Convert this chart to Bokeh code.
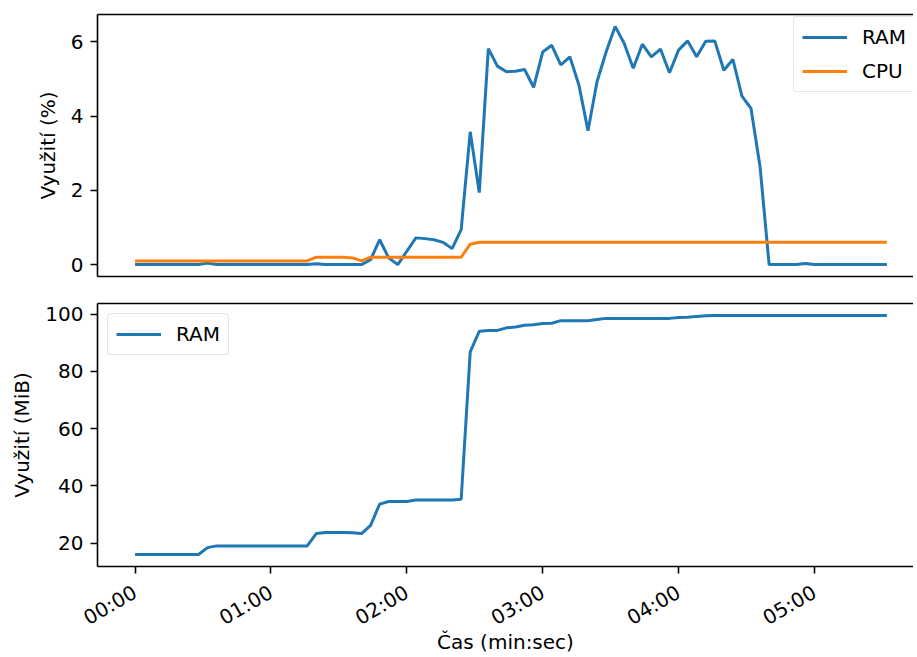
import math
from bokeh.plotting import figure
from bokeh.layouts import column
from bokeh.models import Range1d, FixedTicker, LinearAxis, Legend, LegendItem
from bokeh.embed import file_html
from bokeh.resources import INLINE

# time in seconds (sample every 4 s)
t_sec = [0, 4, 8, 12, 16, 20, 24, 28, 32, 36, 40, 44, 48, 52, 56, 60, 64, 68, 72, 76,
         80, 84, 88, 92, 96, 100, 104, 108, 112, 116, 120, 124, 128, 132, 136, 140, 144, 148, 152, 156,
         160, 164, 168, 172, 176, 180, 184, 188, 192, 196, 200, 204, 208, 212, 216, 220, 224, 228, 232, 236,
         240, 244, 248, 252, 256, 260, 264, 268, 272, 276, 280, 284, 288, 292, 296, 300, 304, 308, 312, 316,
         320, 324, 328, 332]

ram_pct = [0, 0, 0, 0, 0, 0, 0, 0, 0.04, 0, 0, 0, 0, 0, 0, 0, 0, 0, 0, 0,
           0.02, 0, 0, 0, 0, 0, 0.13, 0.67, 0.18, 0.0, 0.36, 0.72, 0.70, 0.67, 0.60, 0.43, 0.94, 3.58, 1.94, 5.82,
           5.35, 5.20, 5.21, 5.26, 4.78, 5.73, 5.91, 5.38, 5.60, 4.84, 3.61, 4.93, 5.73, 6.42, 5.96, 5.29, 5.94, 5.60, 5.81, 5.17,
           5.78, 6.03, 5.60, 6.02, 6.03, 5.24, 5.53, 4.54, 4.21, 2.64, 0, 0, 0, 0, 0.03, 0, 0, 0, 0, 0,
           0, 0, 0, 0]

cpu_pct = [0.1, 0.1, 0.1, 0.1, 0.1, 0.1, 0.1, 0.1, 0.1, 0.1, 0.1, 0.1, 0.1, 0.1, 0.1, 0.1, 0.1, 0.1, 0.1, 0.1,
           0.2, 0.2, 0.2, 0.2, 0.18, 0.1, 0.2, 0.2, 0.2, 0.2, 0.2, 0.2, 0.2, 0.2, 0.2, 0.2, 0.2, 0.55, 0.6, 0.6,
           0.6, 0.6, 0.6, 0.6, 0.6, 0.6, 0.6, 0.6, 0.6, 0.6, 0.6, 0.6, 0.6, 0.6, 0.6, 0.6, 0.6, 0.6, 0.6, 0.6,
           0.6, 0.6, 0.6, 0.6, 0.6, 0.6, 0.6, 0.6, 0.6, 0.6, 0.6, 0.6, 0.6, 0.6, 0.6, 0.6, 0.6, 0.6, 0.6, 0.6,
           0.6, 0.6, 0.6, 0.6]

ram_mib = [16, 16, 16, 16, 16, 16, 16, 16, 18.4, 19, 19, 19, 19, 19, 19, 19, 19, 19, 19, 19,
           23.3, 23.7, 23.7, 23.7, 23.6, 23.3, 26.2, 33.6, 34.5, 34.5, 34.5, 35.0, 35.0, 35.0, 35.0, 35.0, 35.3, 86.8, 94.0, 94.3,
           94.3, 95.2, 95.5, 96.1, 96.3, 96.7, 96.8, 97.7, 97.7, 97.7, 97.7, 98.1, 98.5, 98.5, 98.5, 98.5, 98.5, 98.5, 98.5, 98.5,
           98.8, 98.9, 99.2, 99.4, 99.5, 99.5, 99.5, 99.5, 99.5, 99.5, 99.5, 99.5, 99.5, 99.5, 99.5, 99.5, 99.5, 99.5, 99.5, 99.5,
           99.5, 99.5, 99.5, 99.5]

x_ticks = [0, 60, 120, 180, 240, 300]
x_tick_labels = ["00:00", "01:00", "02:00", "03:00", "04:00", "05:00"]
y1_ticks = [0, 2, 4, 6]
y2_ticks = [20, 40, 60, 80, 100]

BLUE = "#1f77b4"
ORANGE = "#ff7f0e"
FONT = "DejaVu Sans"
FS = "20px"

W = 913
LEFT = 97
x_range = Range1d(-16.6, -16.6 + (W - LEFT) / 2.2644)


def style_axis(ax):
    ax.axis_line_color = "black"
    ax.axis_line_width = 1.6
    ax.major_tick_line_color = "black"
    ax.major_tick_line_width = 1.6
    ax.major_tick_out = 7
    ax.major_tick_in = 0
    ax.minor_tick_line_color = None
    ax.major_label_standoff = 7
    ax.major_label_text_font = FONT
    ax.major_label_text_font_size = FS
    ax.major_label_text_color = "black"
    ax.axis_label_text_font = FONT
    ax.axis_label_text_font_size = FS
    ax.axis_label_text_font_style = "normal"
    ax.axis_label_text_color = "black"
    ax.axis_label_standoff = 8


def blank_axis():
    ax = LinearAxis(ticker=FixedTicker(ticks=[]))
    ax.axis_line_color = "black"
    ax.axis_line_width = 1.6
    ax.major_tick_line_color = None
    ax.minor_tick_line_color = None
    ax.major_label_standoff = 0
    ax.major_tick_out = 0
    return ax


def style_legend(leg):
    leg.label_text_font = FONT
    leg.label_text_font_size = FS
    leg.label_text_color = "black"
    leg.border_line_color = "#cccccc"
    leg.border_line_width = 1.5
    leg.background_fill_alpha = 0.8
    leg.glyph_width = 45
    leg.glyph_height = 20
    leg.label_height = 20
    leg.label_standoff = 15
    leg.spacing = 10
    leg.padding = 8
    leg.margin = 10
    if "border_radius" in type(leg).properties():
        leg.border_radius = 4


# ---------- top plot ----------
p1 = figure(width=W, height=290, x_range=x_range, y_range=Range1d(-0.321, 6.741),
            output_backend="svg", toolbar_location=None,
            min_border_left=LEFT, min_border_right=0, min_border_top=14, min_border_bottom=14)
p1.outline_line_color = None
p1.grid.visible = False

r_ram = p1.line(t_sec, ram_pct, line_color=BLUE, line_width=3)
r_cpu = p1.line(t_sec, cpu_pct, line_color=ORANGE, line_width=3)

p1.yaxis.ticker = FixedTicker(ticks=y1_ticks)
p1.yaxis.axis_label = "Využití (%)"
for ax in p1.yaxis:
    style_axis(ax)
for ax in p1.xaxis:
    ax.ticker = FixedTicker(ticks=[])
    ax.axis_line_color = "black"
    ax.axis_line_width = 1.6
    ax.major_tick_line_color = None
    ax.minor_tick_line_color = None
    ax.major_label_standoff = 0
    ax.major_tick_out = 0
p1.add_layout(blank_axis(), "above")

leg1 = Legend(items=[LegendItem(label="RAM", renderers=[r_ram]),
                     LegendItem(label="CPU", renderers=[r_cpu])],
              location=(696, 184))
style_legend(leg1)
p1.add_layout(leg1, "center")

# ---------- bottom plot ----------
p2 = figure(width=W, height=367, x_range=x_range, y_range=Range1d(11.8, 103.7),
            output_backend="svg", toolbar_location=None,
            min_border_left=LEFT, min_border_right=0, min_border_top=13, min_border_bottom=91)
p2.outline_line_color = None
p2.grid.visible = False

r_mib = p2.line(t_sec, ram_mib, line_color=BLUE, line_width=3)

p2.yaxis.ticker = FixedTicker(ticks=y2_ticks)
p2.yaxis.axis_label = "Využití (MiB)"
for ax in p2.yaxis:
    style_axis(ax)
p2.xaxis.ticker = FixedTicker(ticks=x_ticks)
p2.xaxis.major_label_overrides = {tk: lb for tk, lb in zip(x_ticks, x_tick_labels)}
p2.xaxis.axis_label = "Čas (min:sec)"
for ax in p2.xaxis:
    style_axis(ax)
    ax.major_label_orientation = math.pi / 6
    ax.major_label_standoff = 17
    ax.axis_label_standoff = -13
p2.add_layout(blank_axis(), "above")

leg2 = Legend(items=[LegendItem(label="RAM", renderers=[r_mib])], location="top_left")
style_legend(leg2)
p2.add_layout(leg2, "center")

layout = column(p1, p2, spacing=0)

open("out.html", "w").write(file_html(layout, INLINE))
